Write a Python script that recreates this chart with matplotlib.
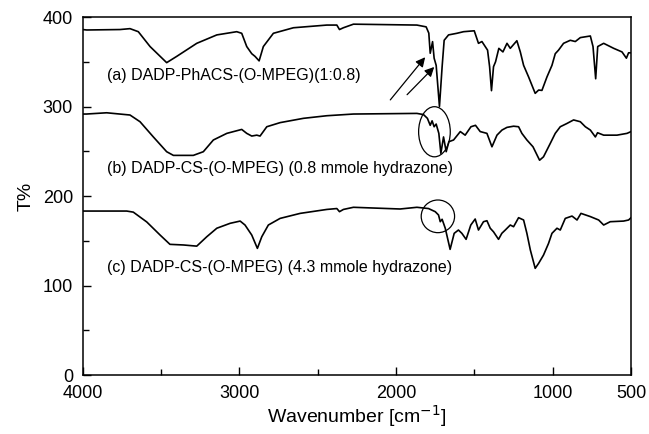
import matplotlib
matplotlib.use('Agg')
import matplotlib.pyplot as plt
from matplotlib.patches import Ellipse

plt.rcParams['font.family'] = ['Liberation Sans', 'DejaVu Sans']

# spectrum (a) DADP-PhACS-(O-MPEG)(1:0.8)
a_wn = [4000, 3974, 3762, 3698, 3645, 3570, 3464, 3400, 3272, 3144, 3017, 2985, 2953, 2921,
        2900, 2874, 2847, 2783, 2655, 2442, 2378, 2361, 2336, 2272, 1867, 1808, 1791, 1782,
        1767, 1757, 1744, 1723, 1706, 1693, 1665, 1612, 1569, 1501, 1474, 1452, 1431, 1416,
        1403, 1391, 1378, 1365, 1344, 1318, 1292, 1271, 1229, 1207, 1186, 1154, 1112, 1090,
        1069, 1037, 1005, 984, 963, 931, 888, 856, 824, 760, 743, 726, 713, 675, 611, 558,
        530, 516, 500]
a_t = [386, 385.5, 386, 387, 383.6, 367, 349, 356, 370.6, 380, 383.6, 381.8, 367, 359,
       356, 351, 367, 381.8, 388, 391, 391, 386, 388, 392, 391, 389, 382, 359.5,
       372.5, 354, 346, 300, 344.5, 374, 380, 381.8, 383.6, 384.6, 370.6, 372.6, 367, 363,
       344.5, 317.7, 344.5, 350, 365, 361, 370.6, 365, 373.5, 361, 346, 333, 314.7, 318.4,
       318, 333, 346, 359, 363, 370.6, 374, 372.6, 377, 378.8, 367, 331, 367, 370.6, 365, 361,
       354, 360, 360]

# spectrum (b) DADP-CS-(O-MPEG) 0.8 mmole
b_wn = [4000, 3976, 3847, 3698, 3634, 3549, 3464, 3421, 3294, 3230, 3166, 3080, 2985, 2953,
        2921, 2889, 2868, 2825, 2740, 2591, 2442, 2272, 1867, 1825, 1800, 1782, 1770, 1757,
        1744, 1727, 1714, 1697, 1680, 1663, 1633, 1590, 1559, 1522, 1493, 1463, 1420, 1388,
        1356, 1324, 1292, 1250, 1218, 1197, 1165, 1126, 1084, 1059, 1016, 984, 952, 910,
        867, 824, 792, 760, 728, 714, 675, 590, 526, 500]
b_t = [291.6, 291.6, 293, 290.5, 283, 266, 249.5, 245.4, 245.4, 249.5, 262.6, 270, 274.4, 270,
       267, 268, 267, 277.4, 282, 286.8, 289.7, 291.6, 292.3, 291, 286.8, 279, 284, 277.4,
       280.4, 270, 247.6, 266, 249.5, 260.7, 262.6, 272, 268, 277.4, 279, 272, 270, 255,
       268, 273.7, 276.7, 278, 277.4, 270, 262.6, 255, 240, 243.8, 258.7, 270, 277.4, 281,
       285, 283, 277.4, 273.7, 266, 270.7, 268, 268, 270, 272]

# spectrum (c) DADP-CS-(O-MPEG) 4.3 mmole
c_wn = [4000, 3953, 3719, 3677, 3591, 3506, 3443, 3357, 3272, 3208, 3144, 3059, 2995, 2964,
        2921, 2885, 2857, 2815, 2740, 2612, 2442, 2378, 2361, 2336, 2272, 1974, 1867, 1793,
        1750, 1729, 1718, 1706, 1686, 1655, 1629, 1602, 1580, 1553, 1523, 1495, 1474, 1442,
        1420, 1399, 1378, 1346, 1325, 1303, 1271, 1250, 1218, 1186, 1165, 1143, 1112, 1090,
        1059, 1027, 1005, 973, 952, 920, 877, 845, 820, 760, 707, 675, 633, 548, 516, 500]
c_t = [183.2, 183.2, 183.2, 182, 171, 156.4, 146, 145.3, 144, 154.5, 164, 169.5, 172, 167.6,
       156.4, 141.5, 154.5, 167.6, 175, 180.6, 185, 186, 182.5, 185, 187.4, 185.5, 187.4, 186,
       182.5, 178.8, 171.3, 174, 164, 140.4, 158.3, 162, 158.3, 151.6, 167.6, 174.3, 162, 171.3,
       172.4, 164, 160, 151.6, 158.3, 162, 167.6, 165.7, 175.8, 173.2, 158.3, 139.7, 119.2, 124.8,
       134, 147, 158.3, 164, 162, 175, 177.6, 173.2, 180.6, 177, 173.2, 167.6, 171.3, 172, 173.2, 175.8]

labels = ['(a) DADP-PhACS-(O-MPEG)(1:0.8)',
          '(b) DADP-CS-(O-MPEG) (0.8 mmole hydrazone)',
          '(c) DADP-CS-(O-MPEG) (4.3 mmole hydrazone)']
label_y = [335, 231, 120]

x_ticks = [4000, 3000, 2000, 1000, 500]

fig = plt.figure(figsize=(6.49, 4.34), dpi=100)
ax = fig.add_axes([0.1274, 0.1359, 0.845, 0.8249])

for wn, t in [(a_wn, a_t), (b_wn, b_t), (c_wn, c_t)]:
    ax.plot(wn, t, color='black', lw=1.2)

for lab, y in zip(labels, label_y):
    ax.text(3845, y, lab, fontsize=11.5, va='center', ha='left')

# arrows to the double peak of (a)
ax.annotate('', xy=(1803, 357.5), xytext=(2048, 305),
            arrowprops=dict(arrowstyle='-|>', color='black', lw=0.9, mutation_scale=14))
ax.annotate('', xy=(1744, 346.4), xytext=(1942, 311),
            arrowprops=dict(arrowstyle='-|>', color='black', lw=0.9, mutation_scale=14))

# circles around the hydrazone region
ax.add_patch(Ellipse((1755, 271.8), 202, 56, fill=False, color='black', lw=0.9))
ax.add_patch(Ellipse((1733, 177.3), 213, 36.5, fill=False, color='black', lw=0.9))

ax.set_xlim(4000, 500)
ax.set_ylim(0, 400)
ax.set_xticks(x_ticks)
ax.set_xticks([3500, 2500, 1500], minor=True)
ax.set_yticks([0, 100, 200, 300, 400])
ax.set_yticks([50, 150, 250, 350], minor=True)
ax.tick_params(which='both', direction='in', labelsize=13, width=1)
ax.tick_params(which='major', length=6)
ax.tick_params(which='minor', length=4)
ax.tick_params(axis='y', pad=7)
ax.tick_params(axis='x', pad=7)
for s in ax.spines.values():
    s.set_linewidth(1.1)

ax.set_xlabel('Wavenumber [cm$^{-1}$]', fontsize=14, labelpad=1)
ax.set_ylabel('T%', fontsize=14, labelpad=6)

fig.savefig('out.png', dpi=100)
